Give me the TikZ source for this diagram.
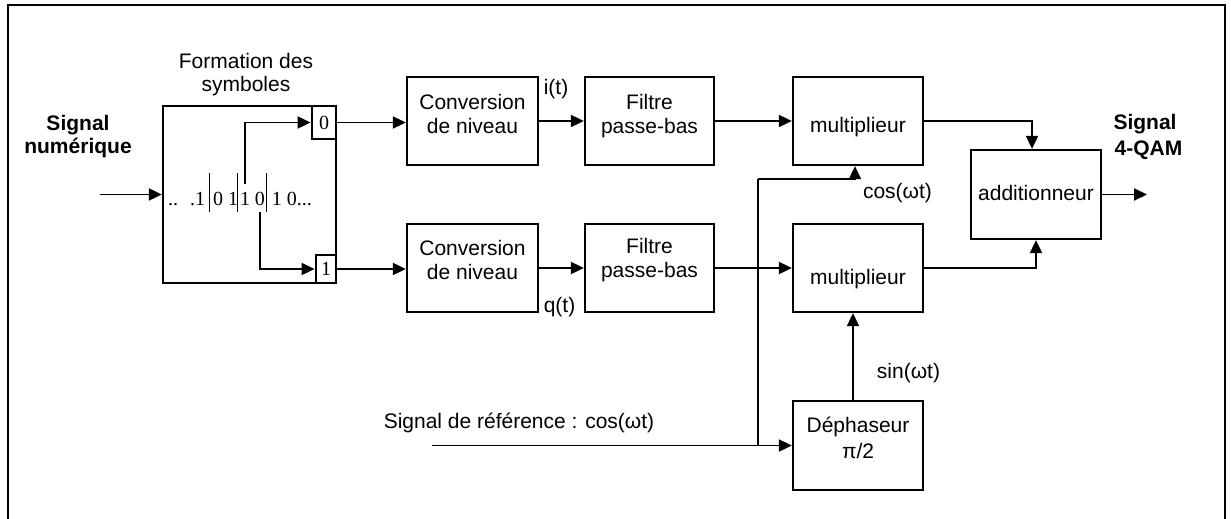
\documentclass[tikz,border=0pt]{standalone}
\usepackage{fontspec}
\setmainfont{Liberation Sans}
\newfontfamily\bitsfont{Liberation Serif}
\usetikzlibrary{arrows.meta}
\newcommand\bbar{\smash{\vrule width 0.9pt height 32pt depth 7pt}}
\newcommand\btext[2]{\raisebox{0pt}[#1pt][0pt]{\begin{tabular}[b]{@{}c@{}}#2\end{tabular}}}
\tikzset{
  blk/.style={draw, line width=2.3pt, inner sep=0pt, font=\fontsize{21}{24}\selectfont},
  bitbox/.style={draw, line width=2.8pt, inner sep=0pt, font=\bitsfont\fontsize{20}{24}\selectfont},
  conn/.style={line width=1.9pt},
  arr/.style={conn, -{Triangle[length=13pt,width=12pt]}},
  lbl/.style={font=\fontsize{21}{23}\selectfont, inner sep=0pt, anchor=base},
  blbl/.style={font=\bfseries\fontsize{21}{23}\selectfont, inner sep=0pt, anchor=base},
}
\begin{document}
\begin{tikzpicture}[x=1pt,y=-1pt]
\useasboundingbox (0,0) rectangle (1231,519);
% frame
\draw[line width=2.6pt] (8,519) -- (8,5) -- (1225,5) -- (1225,519);

% blocks
\node[blk, minimum width=173, minimum height=177] (form) at (249.5,194.5) {};
\node[bitbox, minimum width=24, minimum height=33] (b0) at (324,122.5) {0};
\node[bitbox, minimum width=20, minimum height=28] (b1) at (326,269) {1};
\node[blk, minimum width=131, minimum height=88] (conv1) at (472.5,121) {\btext{25}{Conversion\\de niveau}};
\node[blk, minimum width=129, minimum height=88] (filt1) at (649.5,121) {\btext{25}{Filtre\\passe-bas}};
\node[blk, minimum width=130, minimum height=88] (m1) at (858,121) {\btext{22}{multiplieur}};
\node[blk, minimum width=131, minimum height=88] (conv2) at (472.5,268) {\btext{23}{Conversion\\de niveau}};
\node[blk, minimum width=129, minimum height=88] (filt2) at (649.5,268) {\btext{19}{Filtre\\passe-bas}};
\node[blk, minimum width=130, minimum height=88] (m2) at (858,268) {\btext{33}{multiplieur}};
\node[blk, minimum width=130, minimum height=89] (add) at (1036,194.5) {\btext{12}{additionneur}};
\node[blk, minimum width=130, minimum height=89] (deph) at (858,445.5) {\btext{26}{Déphaseur\\[2pt]π/2}};

% bit sequence
\node[inner sep=0pt, anchor=base west, font=\bitsfont\fontsize{20}{24}\selectfont] (bits) at (168,205)
  {..\hspace{12pt}.1\hspace{4pt}\bbar\hspace{3pt}0 1\hspace{-1pt}\bbar\hspace{2pt}1 0\hspace{1pt}\bbar\hspace{5pt}1 0...};

% labels
\node[blbl] (sn) at (78,130) {\begin{tabular}[t]{@{}c@{}}Signal\\numérique\end{tabular}};
\node[lbl] (fs) at (246,68) {\begin{tabular}[t]{@{}c@{}}Formation des\\symboles\end{tabular}};
\node[blbl] (sq) at (1145,129) {\begin{tabular}[t]{@{}c@{}}Signal\\[3pt]\hspace{7pt}4-QAM\end{tabular}};
\node[lbl] (it) at (556,95) {i(t)};
\node[lbl] (qt) at (559.5,312) {q(t)};
\node[lbl] (cw) at (897.5,198) {cos(ωt)};
\node[lbl] (sw) at (908.5,378) {sin(ωt)};
\node[lbl] (ref) at (519,428) {Signal de référence : cos(ωt)};

% coordinates
\coordinate (in) at (100,194.5);
\coordinate (out) at (1147,194.5);
\coordinate (c0) at (245,184);
\coordinate (c1) at (260,212);
\coordinate (refin) at (432,445.5);
\coordinate (j) at (758,445.5);
\coordinate (jt) at (758,179);

% connectors
\draw[arr] (in) -- (form.west);
\draw[arr] (c0) |- (b0.west);
\draw[arr] (c1) |- (b1.west);
\draw[arr] (b0.east) -- (b0.east -| conv1.west);
\draw[arr] (b1.east) -- (b1.east -| conv2.west);
\draw[arr] (conv1) -- (filt1);
\draw[arr] (filt1) -- (m1);
\draw[arr] (conv2) -- (filt2);
\draw[arr] (filt2) -- (m2);
\draw[arr] (m1.east) -| ([xshift=-4pt]add.north);
\draw[arr] (m2.east) -| (add.south);
\draw[arr] (add) -- (out);
\draw[arr] (refin) -- (deph.west);
\draw[conn] (j) -- (jt);
\draw[arr] (jt) -| ([xshift=-3pt]m1.south);
\draw[arr] ([xshift=-5pt]deph.north) -- ([xshift=-5pt]m2.south);
\end{tikzpicture}
\end{document}
